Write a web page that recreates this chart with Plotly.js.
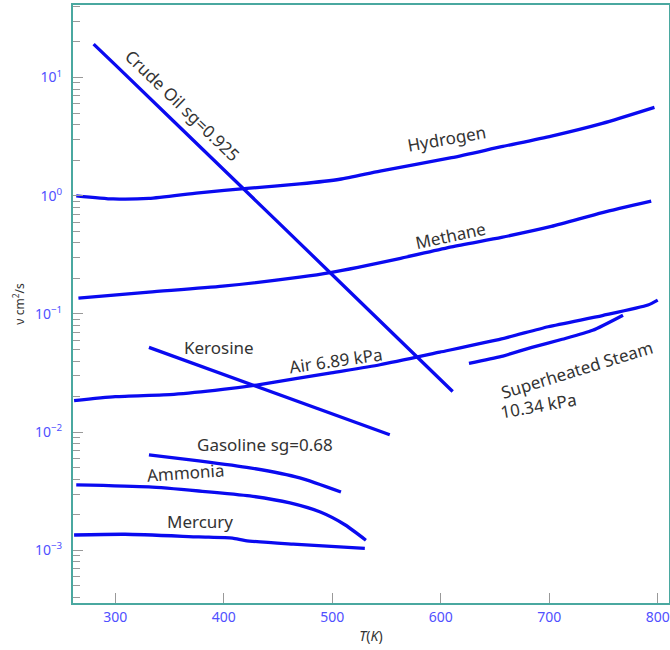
<!DOCTYPE html>
<html><head><meta charset="utf-8">
<script src="https://cdn.plot.ly/plotly-3.0.1.min.js"></script>
<style>html,body{margin:0;padding:0;background:#fff}</style>
</head><body><div id="chart" style="width:670px;height:650px"></div>
<script>
// Temperatures (K) and kinematic viscosities (cm^2/s)
const crudeT = [280, 300, 400, 500, 611];
const crudeV = [19.2, 12.8, 1.66, 0.215, 0.0221];
const hydrogenT = [264, 298, 331, 377, 424, 470, 507, 544, 610, 656, 702, 749, 797];
const hydrogenV = [1.0, 0.94, 0.95, 1.06, 1.16, 1.26, 1.38, 1.62, 2.1, 2.6, 3.2, 4.1, 5.6];
const methaneT = [266, 331, 399, 470, 498, 563, 610, 656, 702, 749, 794];
const methaneV = [0.136, 0.153, 0.172, 0.205, 0.224, 0.296, 0.37, 0.445, 0.55, 0.72, 0.90];
const airT = [262, 300, 354, 399, 433, 499, 544, 599, 656, 699, 749, 791, 800];
const airV = [0.0185, 0.020, 0.0209, 0.023, 0.0253, 0.0318, 0.0372, 0.0475, 0.0615, 0.078, 0.097, 0.119, 0.131];
const steamT = [626, 656, 684, 712, 740, 768];
const steamV = [0.0382, 0.0438, 0.0522, 0.0611, 0.0728, 0.0977];
const keroseneT = [331, 553];
const keroseneV = [0.0522, 0.00952];
const gasolineT = [331, 377, 424, 470, 508];
const gasolineV = [0.00644, 0.00573, 0.0050, 0.00411, 0.00312];
const ammoniaT = [264, 331, 377, 424, 461, 489, 512, 531];
const ammoniaV = [0.00358, 0.00344, 0.00318, 0.00289, 0.00252, 0.00211, 0.00164, 0.00122];
const mercuryT = [262, 309, 377, 408, 420, 464, 530];
const mercuryV = [0.00135, 0.00137, 0.0013, 0.00127, 0.00121, 0.00113, 0.00104];

const xTicks = [300, 400, 500, 600, 700, 800];
const yTickVals = [0.001, 0.01, 0.1, 1, 10];
const yTickText = ['10<sup>\u22123</sup>', '10<sup>\u22122</sup>', '10<sup>\u22121</sup>', '10<sup>0</sup>', '10<sup>1</sup>'];

const labels = ['Crude Oil sg=0.925', 'Hydrogen', 'Methane', 'Kerosine', 'Air 6.89 kPa',
  'Superheated Steam', '10.34 kPa', 'Gasoline sg=0.68', 'Ammonia', 'Mercury'];
const labelT = [362, 605, 609, 396, 503, 726, 690, 438, 365, 378];
const labelV = [5.8, 3.05, 0.457, 0.0522, 0.0405, 0.034, 0.0168, 0.00783, 0.00453, 0.00174];
const labelAngle = [44, -10, -12, 0, -8, -17, -10, 0, -4, 0];

const series = [[crudeT, crudeV], [hydrogenT, hydrogenV], [methaneT, methaneV], [airT, airV],
  [steamT, steamV], [keroseneT, keroseneV], [gasolineT, gasolineV], [ammoniaT, ammoniaV], [mercuryT, mercuryV]];

const traces = series.map(s => ({
  x: s[0], y: s[1], type: 'scatter', mode: 'lines',
  line: {color: '#0a0af0', width: 3.3, shape: 'spline', smoothing: 0.6},
  hoverinfo: 'skip', showlegend: false
}));

const minorVals = [];
for (let e = -4; e <= 1; e++) for (let m = 2; m <= 9; m++) minorVals.push(m * Math.pow(10, e));

const annotations = labels.map((t, i) => ({
  text: t, x: labelT[i], y: Math.log10(labelV[i]), xref: 'x', yref: 'y',
  showarrow: false, textangle: labelAngle[i],
  font: {family: 'Noto Sans', size: 17, color: '#333'}
}));

const layout = {
  width: 670, height: 650,
  margin: {l: 73, r: 1, t: 5, b: 47},
  paper_bgcolor: '#fff', plot_bgcolor: '#fff',
  showlegend: false,
  xaxis: {
    range: [261, 810.4], tickvals: xTicks, ticks: 'inside', ticklen: 10, tickcolor: '#999',
    showgrid: false, zeroline: false, showline: true, mirror: true, linecolor: '#4aa8a0', linewidth: 2,
    tickfont: {family: 'Noto Sans', size: 14, color: '#5050ff'},
    title: {text: '<i>T</i>(<i>K</i>)', font: {family: 'Noto Sans', size: 14, color: '#333'}, standoff: 6}
  },
  yaxis: {
    type: 'log', range: [-3.445, 1.614], tickvals: yTickVals, ticktext: yTickText,
    ticks: 'inside', ticklen: 10, tickcolor: '#999', ticklabelstandoff: 6,
    minor: {tickvals: minorVals, ticks: 'inside', ticklen: 7, tickcolor: '#999', showgrid: false},
    showgrid: false, zeroline: false, showline: true, mirror: true, linecolor: '#4aa8a0', linewidth: 2,
    tickfont: {family: 'Noto Sans', size: 14, color: '#5050ff'},
    title: {text: '\u03bd cm<sup>2</sup>/s', font: {family: 'Noto Sans', size: 12, color: '#333'}, standoff: 8}
  },
  annotations: annotations
};

Plotly.newPlot('chart', traces, layout, {displayModeBar: false, staticPlot: true});
</script></body></html>
